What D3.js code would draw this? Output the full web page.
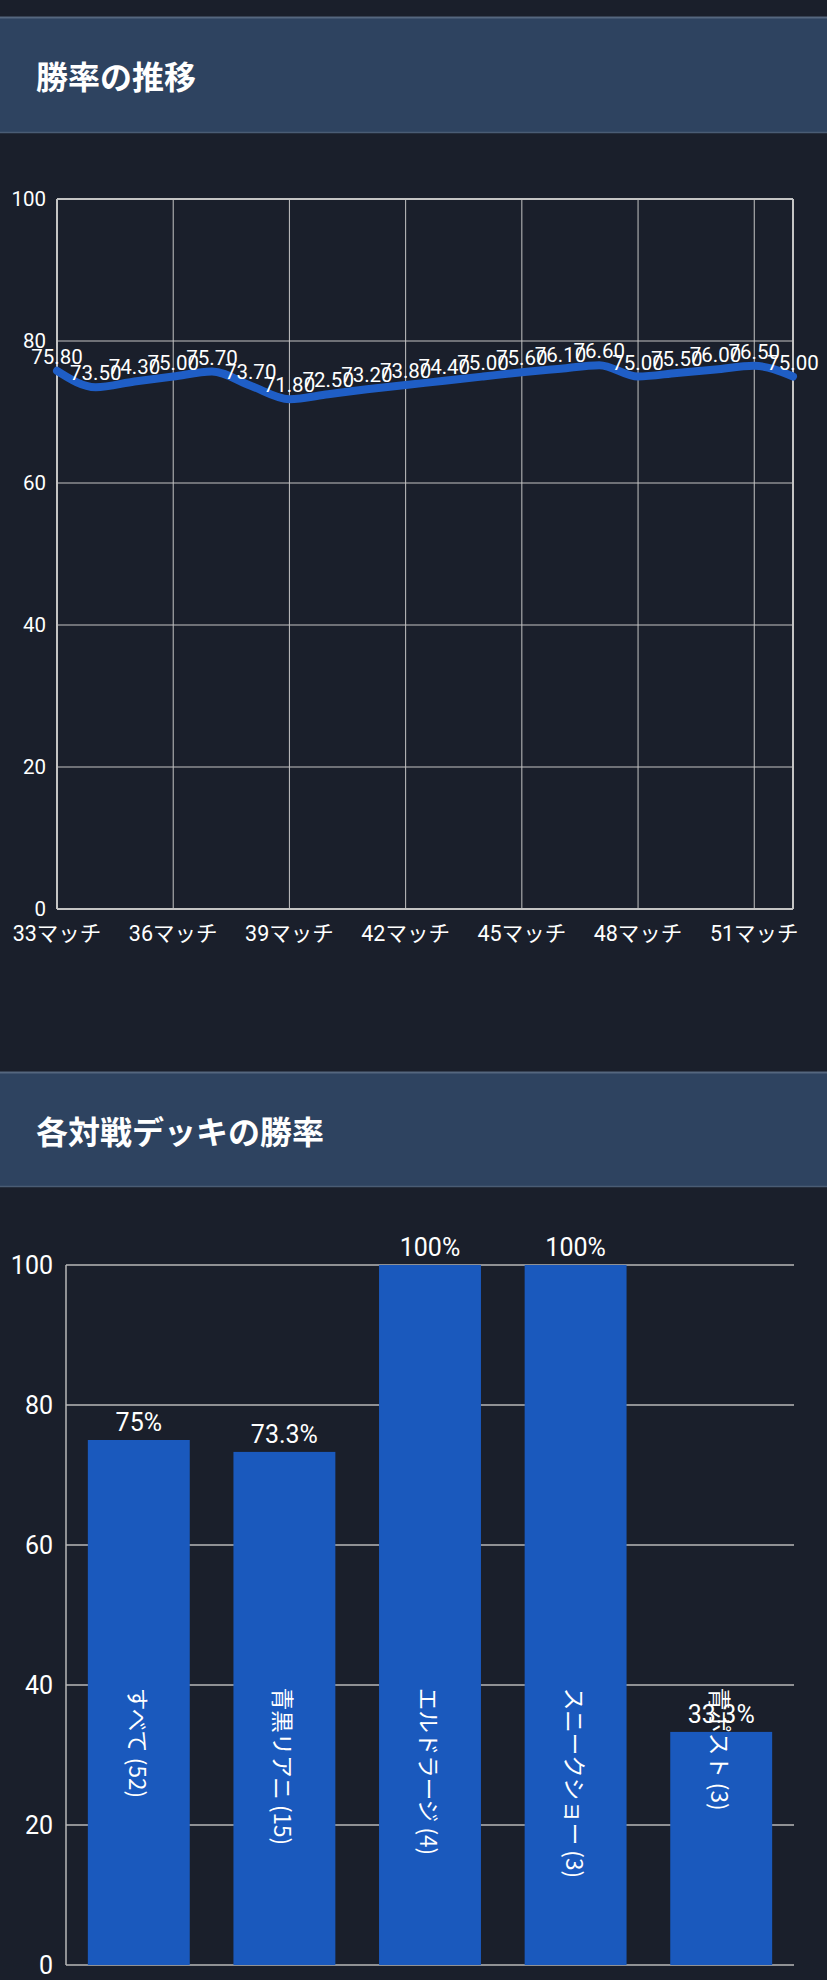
<!DOCTYPE html>
<html>
<head>
<meta charset="utf-8">
<script src="https://cdn.jsdelivr.net/npm/d3@7"></script>
<style>
  body { margin: 0; background: #1a1f2b; }
  svg { display: block; }
  text { font-family: Roboto, "Noto Sans CJK JP", sans-serif; fill: #fff; }
</style>
</head>
<body>
<svg id="page" width="827" height="1980"></svg>
<script>
// win rate over matches
var matches = [33, 34, 35, 36, 37, 38, 39, 40, 41, 42, 43, 44, 45, 46, 47, 48, 49, 50, 51, 52];
var winRates = [75.8, 73.5, 74.3, 75.0, 75.7, 73.7, 71.8, 72.5, 73.2, 73.8, 74.4, 75.0, 75.6, 76.1, 76.6, 75.0, 75.5, 76.0, 76.5, 75.0];
var matchTicks = [33, 36, 39, 42, 45, 48, 51];

// win rate per opponent deck
var decks = ['すべて', '青黒リアニ', 'エルドラージ', 'スニークショー', '青ポスト'];
var deckCounts = [52, 15, 4, 3, 3];
var deckRates = [75, 73.3, 100, 100, 33.3];
var deckRateLabels = ['75%', '73.3%', '100%', '100%', '33.3%'];

var yTicks = [0, 20, 40, 60, 80, 100];

var svg = d3.select('#page');

function drawHeader(top, bottom, title) {
	svg.append('rect')
		.attr('x', 0).attr('y', top)
		.attr('width', 827).attr('height', bottom - top)
		.attr('fill', '#2e4360');
	svg.append('line')
		.attr('x1', 0).attr('x2', 827).attr('y1', top + 0.5).attr('y2', top + 0.5)
		.attr('stroke', '#55677f').attr('stroke-width', 2);
	svg.append('line')
		.attr('x1', 0).attr('x2', 827).attr('y1', bottom - 0.5).attr('y2', bottom - 0.5)
		.attr('stroke', '#4a5c74').attr('stroke-width', 1.5);
	svg.append('text')
		.attr('x', 36).attr('y', (top + bottom) / 2)
		.attr('dominant-baseline', 'central')
		.attr('font-size', 32).attr('font-weight', 'bold')
		.style('font-family', '"Noto Sans CJK JP", sans-serif')
		.text(title);
}

drawHeader(17, 133, '勝率の推移');
drawHeader(1072, 1187, '各対戦デッキの勝率');

// ---- line chart ----
var lx = d3.scaleLinear().domain([33, 52]).range([57, 793]);
var ly = d3.scaleLinear().domain([0, 100]).range([909, 199]);

var g1 = svg.append('g');

g1.selectAll('.hgrid').data(yTicks).enter().append('line')
	.attr('x1', lx(33)).attr('x2', lx(52))
	.attr('y1', function(d){ return ly(d); })
	.attr('y2', function(d){ return ly(d); })
	.attr('stroke', '#c4c4c4')
	.attr('stroke-width', function(d){ return (d === 0 || d === 100) ? 2 : 1; });

g1.selectAll('.vgrid').data(matchTicks.concat([52])).enter().append('line')
	.attr('x1', function(d){ return lx(d); })
	.attr('x2', function(d){ return lx(d); })
	.attr('y1', ly(100)).attr('y2', ly(0))
	.attr('stroke', '#c4c4c4')
	.attr('stroke-width', function(d){ return (d === 33 || d === 52) ? 2 : 1; });

g1.selectAll('.ylab').data(yTicks).enter().append('text')
	.attr('x', 46)
	.attr('y', function(d){ return ly(d); })
	.attr('text-anchor', 'end')
	.attr('dominant-baseline', 'central')
	.attr('font-size', 20.5)
	.text(function(d){ return d; });

g1.selectAll('.xlab').data(matchTicks).enter().append('text')
	.attr('x', function(d){ return lx(d); })
	.attr('y', 941)
	.attr('text-anchor', 'middle')
	.attr('font-size', 21.5)
	.text(function(d){ return d + 'マッチ'; });

var line = d3.line()
	.x(function(d, i){ return lx(matches[i]); })
	.y(function(d){ return ly(d); })
	.curve(d3.curveMonotoneX);

g1.append('path')
	.attr('d', line(winRates))
	.attr('fill', 'none')
	.attr('stroke', '#1f5ec6')
	.attr('stroke-width', 8)
	.attr('stroke-linecap', 'round')
	.attr('stroke-linejoin', 'round');

g1.selectAll('.vlab').data(winRates).enter().append('text')
	.attr('x', function(d, i){ return lx(matches[i]); })
	.attr('y', function(d){ return ly(d) - 7; })
	.attr('text-anchor', 'middle')
	.attr('font-size', 20.5)
	.text(function(d){ return d.toFixed(2); });

// ---- bar chart ----
var bx = d3.scaleBand().domain(decks).range([66, 794]).paddingInner(0.3).paddingOuter(0.15);
var by = d3.scaleLinear().domain([0, 100]).range([1965, 1265]);

var g2 = svg.append('g');

g2.selectAll('.hgrid').data(yTicks).enter().append('line')
	.attr('x1', 66).attr('x2', 794)
	.attr('y1', function(d){ return by(d); })
	.attr('y2', function(d){ return by(d); })
	.attr('stroke', '#b8b8b8')
	.attr('stroke-width', 1.5);

g2.append('line')
	.attr('x1', 66).attr('x2', 66)
	.attr('y1', by(100)).attr('y2', by(0))
	.attr('stroke', '#b8b8b8').attr('stroke-width', 1.5);

g2.selectAll('.ylab').data(yTicks).enter().append('text')
	.attr('x', 53)
	.attr('y', function(d){ return by(d); })
	.attr('text-anchor', 'end')
	.attr('dominant-baseline', 'central')
	.attr('font-size', 25)
	.text(function(d){ return d; });

g2.selectAll('.bar').data(decks).enter().append('rect')
	.attr('x', function(d){ return bx(d); })
	.attr('y', function(d, i){ return by(deckRates[i]); })
	.attr('width', bx.bandwidth())
	.attr('height', function(d, i){ return by(0) - by(deckRates[i]); })
	.attr('fill', '#1a59bd');

g2.selectAll('.blab').data(decks).enter().append('text')
	.attr('x', function(d){ return bx(d) + bx.bandwidth() / 2; })
	.attr('y', function(d, i){ return by(deckRates[i]) - 9; })
	.attr('text-anchor', 'middle')
	.attr('font-size', 25)
	.text(function(d, i){ return deckRateLabels[i]; });

g2.selectAll('.cat').data(decks).enter().append('text')
	.attr('transform', function(d){
		return 'translate(' + (bx(d) + bx.bandwidth() / 2) + ',' + by(39.6) + ') rotate(90)';
	})
	.attr('text-anchor', 'start')
	.attr('dominant-baseline', 'central')
	.attr('font-size', 22.5)
	.style('font-family', '"Noto Sans CJK JP", sans-serif')
	.text(function(d, i){ return d + ' (' + deckCounts[i] + ')'; });
</script>
</body>
</html>
